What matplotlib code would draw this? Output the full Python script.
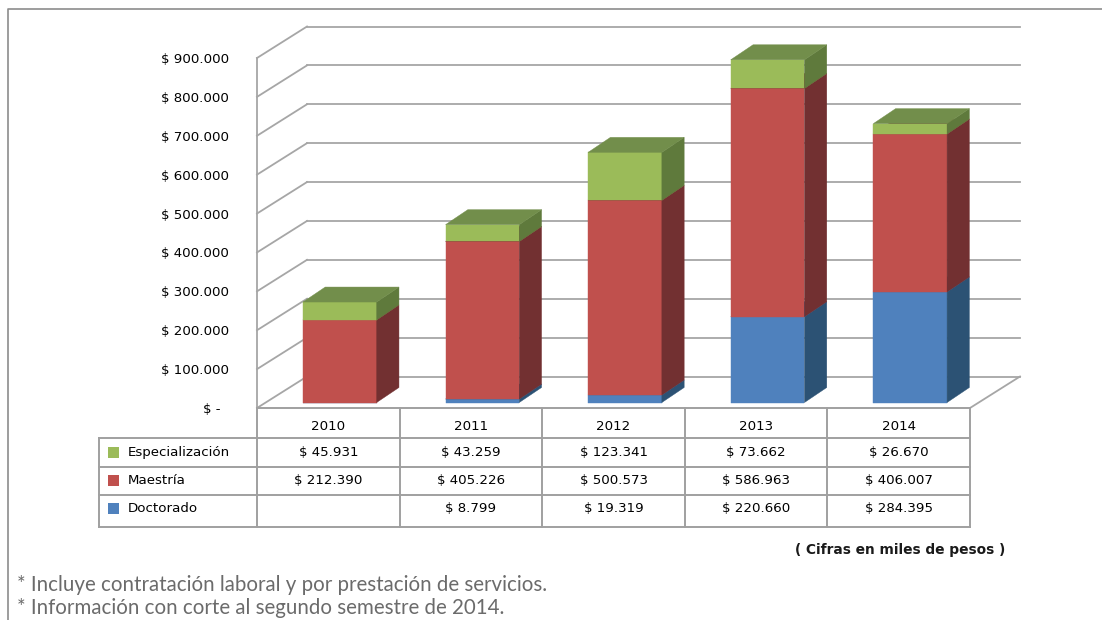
import numpy as np
import matplotlib.pyplot as plt
import matplotlib.transforms as mtransforms
from matplotlib.patches import Polygon, Rectangle
from matplotlib.lines import Line2D
from matplotlib.ticker import FuncFormatter

W, H = 1102, 620

years = ['2010', '2011', '2012', '2013', '2014']
# stacked bottom to top
doctorado = [0, 8799, 19319, 220660, 284395]
maestria = [212390, 405226, 500573, 586963, 406007]
especializacion = [45931, 43259, 123341, 73662, 26670]
y_ticks = np.arange(0, 900001, 100000)

notes = ['* Incluye contratación laboral y por prestación de servicios.',
         '* Información con corte al segundo semestre de 2014.']
units_note = '( Cifras en miles de pesos )'

stack = [('Doctorado', doctorado, '#4F81BD', '#2C5274', '#3B6393'),
         ('Maestría', maestria, '#C0504D', '#723031', '#8E3B39'),
         ('Especialización', especializacion, '#9BBB59', '#5F7A3C', '#728E4B')]
table_order = [stack[2], stack[1], stack[0]]

plt.rcParams['font.family'] = 'DejaVu Sans'
plt.rcParams['font.size'] = 9.6

fig = plt.figure(figsize=(W / 100, H / 100), dpi=100)
ax = fig.add_axes([257 / W, 1 - 408 / H, 713 / W, 350 / H])
ax.set_xlim(-0.5, len(years) - 0.5)
ax.set_ylim(0, 900000)
for s in ax.spines.values():
    s.set_visible(False)
ax.set_xticks([])
ax.set_yticks(y_ticks)
ax.yaxis.set_major_formatter(FuncFormatter(
    lambda v, p: '$ -  ' if v == 0 else '$ ' + f'{int(v):,}'.replace(',', '.')))
ax.tick_params(axis='y', length=0, pad=20, labelsize=9.6)
ax.patch.set_visible(False)

# pixel -> data helpers for the oblique depth
x0, y0 = ax.transData.transform((0, 0))
x1, y1 = ax.transData.transform((1, 100000))
px_cat = x1 - x0
px_val = (y1 - y0) / 100000


def ddx(p):
    return p / px_cat


def ddy(p):
    return p / px_val


grid_c = '#A6A6A6'
wall_dx, wall_dy = ddx(50), ddy(31.5)
left, right = -0.5, len(years) - 0.5

# walls and gridlines
ax.plot([left, left], [0, y_ticks[-1]], color=grid_c, lw=1.3, clip_on=False, zorder=1)
for v in y_ticks:
    ax.plot([left, left + wall_dx], [v, v + wall_dy], color=grid_c, lw=1.3,
            clip_on=False, zorder=1)
    ax.plot([left + wall_dx, right + wall_dx], [v + wall_dy, v + wall_dy],
            color=grid_c, lw=1.3, clip_on=False, zorder=1)
ax.plot([right, right + wall_dx], [0, wall_dy], color=grid_c, lw=1.3,
        clip_on=False, zorder=1)

# 3D stacked bars
bar_w = 0.517
off_x, off_y = ddx(11.5), ddy(5.5)
side_dx, side_dy = ddx(22.3), ddy(15)
xs = np.arange(len(years)) + off_x
bottom = np.zeros(len(years))
z = 3
for name, vals, front, side, top in stack:
    vals = np.array(vals, dtype=float)
    ax.bar(xs, vals, bottom=bottom + off_y, width=bar_w, color=front,
           edgecolor=front, linewidth=0.3, clip_on=False, zorder=z)
    for i, v in enumerate(vals):
        if v <= 0:
            continue
        l, r = xs[i] - bar_w / 2, xs[i] + bar_w / 2
        b, t = bottom[i] + off_y, bottom[i] + v + off_y
        ax.add_patch(Polygon([(r, b), (r + side_dx, b + side_dy),
                              (r + side_dx, t + side_dy), (r, t)],
                             closed=True, facecolor=side, edgecolor=side, lw=0.3,
                             clip_on=False, zorder=z))
        ax.add_patch(Polygon([(l, t), (r, t), (r + side_dx, t + side_dy),
                              (l + side_dx, t + side_dy)],
                             closed=True, facecolor=top, edgecolor=top, lw=0.3,
                             clip_on=False, zorder=z))
    bottom += vals
    z += 1

# data table below the plot, laid out in pixels from the top-left corner
top_px = mtransforms.Affine2D().scale(1 / W, -1 / H).translate(0, 1) + fig.transFigure
col_edges = [ax.transData.transform((e, 0))[0] for e in np.arange(-0.5, len(years))]
floor_px = H - ax.transData.transform((0, 0))[1]
row_edges = [floor_px, 437.7, 466.7, 494.7, 526.7]
leg_left = 99
tc = '#A0A0A0'


def hline(xa, xb, y):
    fig.add_artist(Line2D([xa, xb], [y, y], color=tc, lw=1.4, transform=top_px))


def vline(x, ya, yb):
    fig.add_artist(Line2D([x, x], [ya, yb], color=tc, lw=1.4, transform=top_px))


hline(col_edges[0], col_edges[-1], row_edges[0])
for y in row_edges[1:]:
    hline(leg_left, col_edges[-1], y)
for x in col_edges:
    vline(x, row_edges[0], row_edges[-1])
vline(leg_left, row_edges[1], row_edges[-1])

centers = [(a + b) / 2 for a, b in zip(col_edges[:-1], col_edges[1:])]
for cx, yr in zip(centers, years):
    fig.text(cx, 426.7, yr, transform=top_px, ha='center', va='center')

row_y = [452.8, 480.6, 508.2]
for (name, vals, front, side, top), ry in zip(table_order, row_y):
    fig.add_artist(Rectangle((107.5, ry - 5.5), 11, 11, facecolor=front,
                             edgecolor='none', transform=top_px))
    fig.text(127.3, ry, name, transform=top_px, ha='left', va='center')
    for cx, v in zip(centers, vals):
        if v:
            fig.text(cx, ry, '$ ' + f'{v:,}'.replace(',', '.'), transform=top_px,
                     ha='center', va='center')

fig.text(1005, 550, units_note, transform=top_px, ha='right', va='center',
         fontsize=9.9, fontweight='bold', color='#1a1a1a')
for y, line in zip([585, 608], notes):
    fig.text(17, y, line, transform=top_px, ha='left', va='center',
             fontsize=14.8, color='#6b6b6b', family='Lato')

# outer frame
fig.add_artist(Line2D([8, 8, W], [H, 9, 9], color='#8C8C8C', lw=1.2, transform=top_px))

fig.savefig('out.png', dpi=100)
